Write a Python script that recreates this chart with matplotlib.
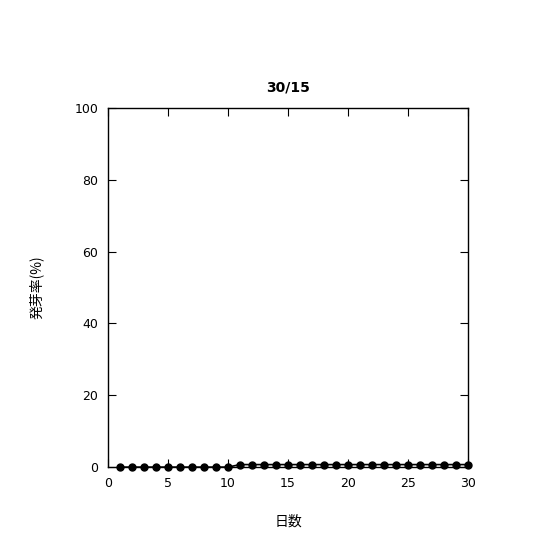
import matplotlib
matplotlib.use("Agg")
import matplotlib.pyplot as plt

plt.rcParams['font.family'] = ['DejaVu Sans', 'Noto Sans CJK JP']

days = list(range(1, 31))
rate = [0.0] * 10 + [0.7] * 20
err = [0.0] * 10 + [0.7] * 20

fig = plt.figure(figsize=(5.4, 5.4), dpi=100)
ax = fig.add_axes([0.2, 0.135, 0.6667, 0.665])

ax.errorbar(days, rate, yerr=err, color='black', marker='o', markersize=5,
            linewidth=1.2, elinewidth=1, capsize=0, clip_on=False, zorder=3)

ax.set_xlim(0, 30)
ax.set_ylim(0, 100)
ax.set_xticks([0, 5, 10, 15, 20, 25, 30])
ax.set_yticks([0, 20, 40, 60, 80, 100])
ax.tick_params(direction='in', top=True, right=True, length=6, labelsize=9, pad=7)
for s in ax.spines.values():
    s.set_linewidth(1)

ax.set_title("30/15", fontsize=10, fontweight='bold', pad=12)
ax.set_xlabel("日数", fontsize=10, labelpad=18,
              family=['Noto Sans CJK JP', 'DejaVu Sans'])
ax.set_ylabel("発芽率(%)", fontsize=10, labelpad=22,
              family=['Noto Sans CJK JP', 'DejaVu Sans'])

fig.savefig("out.png", dpi=100)
